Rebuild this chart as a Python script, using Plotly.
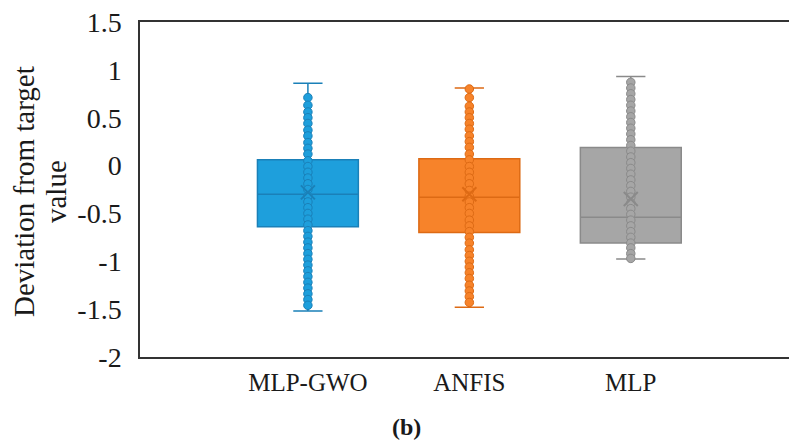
import plotly.graph_objects as go

categories = ["MLP-GWO", "ANFIS", "MLP"]
positions = [0, 1, 2]
y_ticks = [1.5, 1, 0.5, 0, -0.5, -1, -1.5, -2]
y_tick_labels = ["1.5", "1", "0.5", "0", "-0.5", "-1", "-1.5", "-2"]

# box statistics
q1 = [-0.64, -0.70, -0.81]
median = [-0.30, -0.33, -0.54]
q3 = [0.06, 0.07, 0.19]
lower = [-1.52, -1.48, -0.975]
upper = [0.86, 0.81, 0.93]
means = [-0.28, -0.30, -0.35]

# individual points (estimated)
pts_gwo = [0.71, 0.63, 0.56, 0.50, 0.44, 0.37, 0.31, 0.24, 0.18, 0.12, 0.05, -0.01,
           -0.07, -0.13, -0.19, -0.25, -0.32, -0.38, -0.44, -0.50, -0.56, -0.62,
           -0.68, -0.74, -0.80, -0.86, -0.92, -0.98, -1.04, -1.10, -1.16, -1.22,
           -1.28, -1.34, -1.40, -1.46]
pts_anfis = [0.80, 0.71, 0.62, 0.56, 0.50, 0.44, 0.38, 0.31, 0.25, 0.19, 0.12, 0.06,
             -0.01, -0.07, -0.13, -0.19, -0.26, -0.32, -0.38, -0.44, -0.50, -0.57,
             -0.63, -0.69, -0.75, -0.81, -0.88, -0.94, -1.00, -1.06, -1.12, -1.18,
             -1.25, -1.31, -1.37, -1.43]
pts_mlp = [0.87, 0.81, 0.75, 0.69, 0.63, 0.57, 0.51, 0.45, 0.39, 0.33, 0.27, 0.21,
           0.15, 0.09, 0.03, -0.03, -0.09, -0.15, -0.21, -0.27, -0.33, -0.39,
           -0.45, -0.51, -0.57, -0.63, -0.69, -0.75, -0.81, -0.86, -0.92, -0.97]
points = [pts_gwo, pts_anfis, pts_mlp]

fills = ["#1E9FDC", "#F7832A", "#A6A6A6"]
lines = ["#1A80B8", "#DD6A14", "#8A8A8A"]

fig = go.Figure()
for i in range(3):
    fig.add_trace(go.Box(
        x=[positions[i]], q1=[q1[i]], median=[median[i]], q3=[q3[i]],
        lowerfence=[lower[i]], upperfence=[upper[i]],
        fillcolor=fills[i], line=dict(color=lines[i], width=1.5),
        width=0.625, whiskerwidth=0.29, boxpoints=False, showlegend=False,
    ))
    fig.add_trace(go.Scatter(
        x=[positions[i]] * len(points[i]), y=points[i], mode="markers",
        marker=dict(size=8.5, color=fills[i], line=dict(color=lines[i], width=1)),
        showlegend=False,
    ))
    fig.add_trace(go.Scatter(
        x=[positions[i]], y=[means[i]], mode="markers",
        marker=dict(symbol="x-thin", size=14, line=dict(color=lines[i], width=2)),
        showlegend=False,
    ))

L, T, B = 140, 22, 84
W, H = 789, 441
PW, PH = W - L, H - T - B

font = "Liberation Serif"
fig.update_layout(
    width=W, height=H,
    margin=dict(l=L, r=0, t=T, b=B),
    paper_bgcolor="white", plot_bgcolor="white",
    font=dict(family=font, size=24, color="#1a1a1a"),
    xaxis=dict(range=[-1.04, 2.98], tickvals=positions, ticktext=categories,
               showgrid=False, zeroline=False, showline=True, linecolor="#333",
               linewidth=1.5, mirror=True, ticks="", ticklabelstandoff=2,
               tickfont=dict(size=25), automargin=False),
    yaxis=dict(range=[-2, 1.5], tickvals=y_ticks, ticktext=y_tick_labels,
               showgrid=False, zeroline=False, ticklabeloverflow="allow",
               showline=True, linecolor="#333", linewidth=1.5, ticks="",
               ticklabelstandoff=11, tickfont=dict(size=28), automargin=False),
)
# two-line rotated axis title
title_y = (H - B - 192) / PH
fig.add_annotation(text="Deviation from target", xref="paper", yref="paper",
                   x=(24 - L) / PW, y=title_y, xanchor="center", yanchor="middle",
                   textangle=-90, showarrow=False, font=dict(size=29))
fig.add_annotation(text="value", xref="paper", yref="paper",
                   x=(56 - L) / PW, y=title_y, xanchor="center", yanchor="middle",
                   textangle=-90, showarrow=False, font=dict(size=29))
fig.add_annotation(text="<b>(b)</b>", xref="paper", yref="paper",
                   x=(406 - L) / PW, y=(H - B - 427) / PH,
                   xanchor="center", yanchor="middle", showarrow=False,
                   font=dict(size=24, color="#1a1a1a"))
fig.write_html("out.html", config={"displayModeBar": False},
               post_script="document.body.style.margin='0';"
                           "document.body.style.overflow='hidden';"
                           "document.documentElement.style.overflow='hidden';")
